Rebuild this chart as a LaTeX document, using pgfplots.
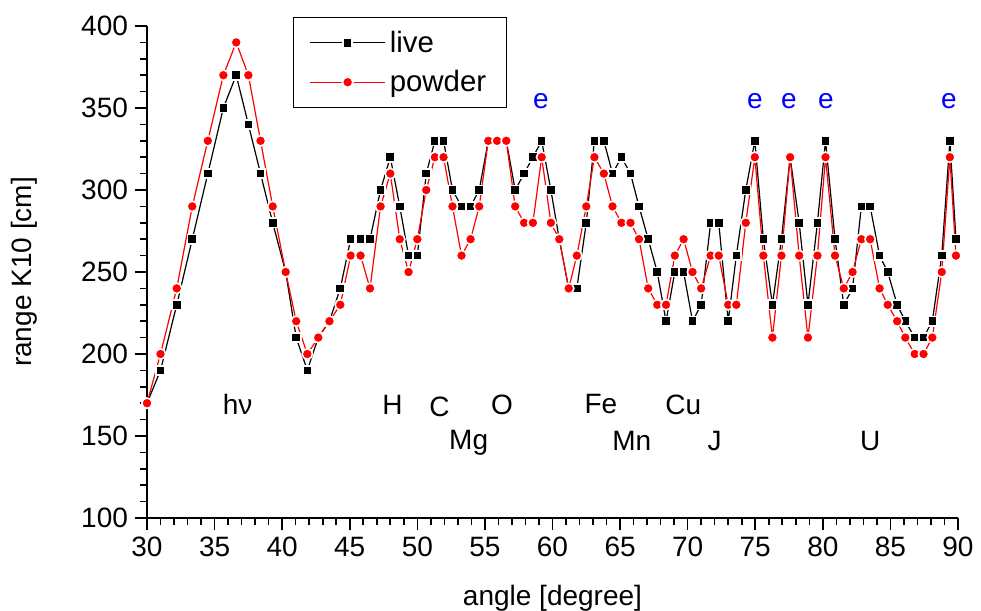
\documentclass[border=0pt]{standalone}
\usepackage{fontspec}
\setmainfont{Liberation Sans}
\usepackage{pgfplots}
\pgfplotsset{compat=1.18}

% range K10 versus angle, live and powder measurements
\pgfplotstableread{
x     live  powder
30.00 170 170
31.00 190 200
32.20 230 240
33.35 270 290
34.50 310 330
35.65 350 370
36.60 370 390
37.50 340 370
38.40 310 330
39.30 280 290
40.26 250 250
41.04 210 220
41.86 190 200
42.67 210 210
43.50 220 220
44.30 240 230
45.07 270 260
45.80 270 260
46.50 270 240
47.28 300 290
48.00 320 310
48.70 290 270
49.35 260 250
50.00 260 270
50.66 310 300
51.30 330 320
51.94 330 320
52.60 300 290
53.27 290 260
53.94 290 270
54.58 300 290
55.25 330 330
55.90 330 330
56.58 330 330
57.24 300 290
57.90 310 280
58.55 320 280
59.20 330 320
59.88 300 280
60.50 270 270
61.20 240 240
61.80 240 260
62.50 280 290
63.10 330 320
63.80 330 310
64.44 310 290
65.10 320 280
65.77 310 280
66.40 290 270
67.08 270 240
67.75 250 230
68.40 220 230
69.05 250 260
69.70 250 270
70.36 220 250
71.00 230 240
71.70 280 260
72.30 280 260
73.00 220 230
73.60 260 230
74.30 300 280
74.97 330 320
75.60 270 260
76.27 230 210
76.94 270 260
77.58 320 320
78.25 280 260
78.90 230 210
79.60 280 260
80.20 330 320
80.90 270 260
81.55 230 240
82.20 240 250
82.85 290 270
83.50 290 270
84.20 260 240
84.80 250 230
85.50 230 220
86.10 220 210
86.80 210 200
87.45 210 200
88.10 220 210
88.80 260 250
89.40 330 320
89.85 270 260
}\datatable

\begin{document}
\begin{tikzpicture}
\begin{axis}[
  name=ax,
  at={(0,0)}, anchor=south west,
  scale only axis,
  width=405.5pt, height=246pt,
  xmin=30, xmax=90, ymin=100, ymax=400,
  axis x line*=bottom, axis y line*=left,
  x axis line style={-, line width=0.8pt},
  y axis line style={-, line width=0.8pt},
  xtick distance=5, ytick distance=50,
  minor x tick num=4, minor y tick num=4,
  tick align=outside,
  major tick length=6pt, minor tick length=3.5pt,
  every tick/.style={black, line width=0.8pt},
  tick label style={font=\fontsize{14}{16}\selectfont},
  /pgf/number format/assume math mode=true,
  xlabel={angle [degree]},
  ylabel={range K10 [cm]},
  label style={font=\fontsize{14}{16}\selectfont},
  x label style={at={(axis description cs:0.5,-0.163)}, anchor=center},
  y label style={at={(axis description cs:-0.1517,0.5)}, anchor=center},
  legend style={
    at={(rel axis cs:0.18,1.018)}, anchor=north west,
    draw=black, line width=0.6pt,
    font=\fontsize{14.7}{17}\selectfont,
    inner xsep=8pt, inner ysep=4.5pt,
    row sep=3.5pt,
    cells={anchor=west},
  },
  legend image code/.code={
    \draw[mark repeat=2, mark phase=2, #1]
      plot coordinates {(0pt,0pt) (18.75pt,0pt) (37.5pt,0pt)};
  },
  clip=false,
]
\addplot[black, line width=0.6pt, mark=square*, mark size=2.3pt,
  mark options={fill=black, draw=white, line width=0.8pt}]
  table[x=x, y=live] {\datatable};
\addlegendentry{live}
\addplot[red, line width=0.6pt, mark=*, mark size=2.6pt,
  mark options={fill=red, draw=white, line width=0.8pt}]
  table[x=x, y=powder] {\datatable};
\addlegendentry{powder}

% element annotations
\begin{scope}[every node/.style={font=\fontsize{14}{16}\selectfont, anchor=base}]
\node at (axis cs:36.7,163.4) {hν};
\node at (axis cs:48.16,163.4) {H};
\node at (axis cs:51.64,161.8) {C};
\node at (axis cs:53.8,142) {Mg};
\node at (axis cs:56.26,163.4) {O};
\node at (axis cs:63.58,164) {Fe};
\node at (axis cs:65.87,141.4) {Mn};
\node at (axis cs:69.68,163.4) {Cu};
\node at (axis cs:72.0,141.4) {J};
\node at (axis cs:83.5,141.4) {U};
\end{scope}
\begin{scope}[every node/.style={font=\fontsize{14}{16}\selectfont, anchor=base, text=blue}]
\node at (axis cs:59.14,349.7) {e};
\node at (axis cs:74.97,349.7) {e};
\node at (axis cs:77.49,349.7) {e};
\node at (axis cs:80.22,349.7) {e};
\node at (axis cs:89.32,349.7) {e};
\end{scope}
\end{axis}
\pgfresetboundingbox
\path[use as bounding box] (-73.5pt,-46.5pt) rectangle (417pt,259pt);
\end{tikzpicture}
\end{document}
